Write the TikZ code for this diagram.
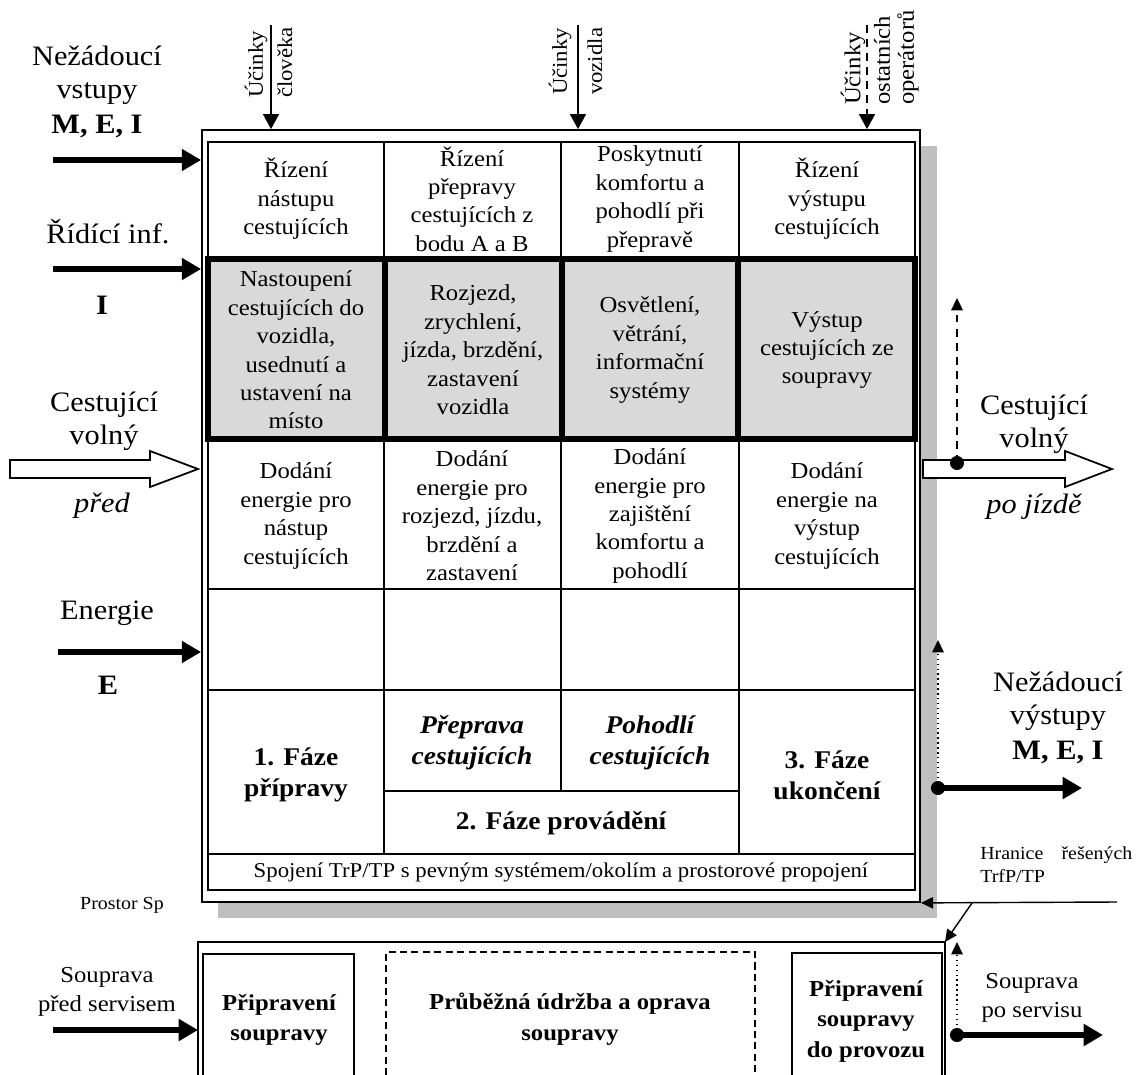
\documentclass[tikz,border=0pt]{standalone}
\usepackage{fontspec}
\setmainfont[FakeStretch=1.08]{Liberation Serif}
\usetikzlibrary{arrows.meta}

\begin{document}
\begin{tikzpicture}[x=0.02cm, y=-0.02cm,
    cell/.style={font=\fontsize{13}{16.2}\selectfont, align=center},
    phase/.style={font=\fontsize{14.5}{17.6}\selectfont\bfseries, align=center},
    side/.style={font=\fontsize{16}{19}\selectfont, align=center},
    service/.style={font=\fontsize{13}{17.4}\selectfont\bfseries, align=center},
    effectlab/.style={font=\fontsize{12}{14}\selectfont, rotate=90, anchor=west, inner sep=1pt},
    grid/.style={line width=0.8pt},
    fatarrow/.style={line width=3.4pt, -{Triangle[length=11pt,width=12pt]}},
    effarrow/.style={line width=1.1pt, -{Triangle[length=8.5pt,width=9pt]}},
    thinarrow/.style={line width=0.8pt, -{Triangle[length=7pt,width=6.5pt]}},
    hollow/.style={draw, fill=white, line width=1pt},
    blob/.style={circle, fill, inner sep=0pt, minimum size=8pt}]
\useasboundingbox (0,0) rectangle (1136,1075);

% Shadow and main frame
\fill[black!25] (218,146) rectangle (937,918);
\node[draw, fill=white, line width=1.1pt, minimum width=14.36cm, minimum height=15.44cm, inner sep=0pt] (frame) at (561,516) {};
\draw[grid] (208,142) rectangle (915,890);

% Rows and columns of the table
\foreach \ry in {589,690,854} \draw[grid] (208,\ry) -- (915,\ry);
\draw[grid] (384,791) -- (739,791);
\foreach \cx in {384,739} \draw[grid] (\cx,142) -- (\cx,854);
\draw[grid] (561,142) -- (561,791);

% Grey row with heavy borders
\filldraw[fill=black!15, line width=3.4pt] (208,259) rectangle (915,439);
\foreach \cx in {385,562,738} \draw[line width=3.4pt] (\cx,259) -- (\cx,439);

% Row 1
\node[cell] (ctlA) at (296,199) {Řízení\\nástupu\\cestujících};
\node[cell] (ctlB) at (472,199) {Řízení\\přepravy\\cestujících z\\bodu A a B};
\node[cell] (ctlC) at (650,199) {Poskytnutí\\komfortu a\\pohodlí při\\přepravě};
\node[cell] (ctlD) at (827,199) {Řízení\\výstupu\\cestujících};
% Row 2
\node[cell] (actA) at (296,350) {Nastoupení\\cestujících do\\vozidla,\\usednutí a\\ustavení na\\místo};
\node[cell] (actB) at (473,350) {Rozjezd,\\zrychlení,\\jízda, brzdění,\\zastavení\\vozidla};
\node[cell] (actC) at (650,350) {Osvětlení,\\větrání,\\informační\\systémy};
\node[cell] (actD) at (827,350) {Výstup\\cestujících ze\\soupravy};
% Row 3
\node[cell] (engA) at (296,516) {Dodání\\energie pro\\nástup\\cestujících};
\node[cell] (engB) at (472,516) {Dodání\\energie pro\\rozjezd, jízdu,\\brzdění a\\zastavení};
\node[cell] (engC) at (650,516) {Dodání\\energie pro\\zajištění\\komfortu a\\pohodlí};
\node[cell] (engD) at (827,516) {Dodání\\energie na\\výstup\\cestujících};
% Phases
\node[phase] (phA) at (296,775) {1. Fáze\\přípravy};
\node[phase] (trans) at (472,743) {\itshape Přeprava\\\itshape cestujících};
\node[phase] (comf) at (650,743) {\itshape Pohodlí\\\itshape cestujících};
\node[phase] (phB) at (561,823) {2. Fáze provádění};
\node[phase] (phC) at (827,775) {3. Fáze\\ukončení};
\node[font=\fontsize{12}{14}\selectfont] (link) at (561,872) {Spojení TrP/TP s pevným systémem/okolím a prostorové propojení};

% Effects from above
\coordinate (humTop) at (271,25);
\coordinate (vehTop) at (578,25);
\coordinate (othTop) at (867,25);
\draw[effarrow] (humTop) -- (frame.north -| humTop);
\draw[effarrow] (vehTop) -- (frame.north -| vehTop);
\draw[effarrow, dash pattern=on 4.5pt off 3.5pt] (othTop) -- (frame.north -| othTop);
\node[effectlab] (humA) at (256,100) {Účinky};
\node[effectlab] (humB) at (285,100) {člověka};
\node[effectlab] (vehA) at (560,97) {Účinky};
\node[effectlab] (vehB) at (595,97) {vozidla};
\node[effectlab, font=\fontsize{13}{15}\selectfont] (othA) at (853,107) {Účinky};
\node[effectlab, font=\fontsize{13}{15}\selectfont] (othB) at (882,107) {ostatních};
\node[effectlab, font=\fontsize{13}{15}\selectfont] (othC) at (908,107) {operátorů};

% Inputs on the left
\node[side] (badIn) at (97,92) {Nežádoucí\\vstupy\\[1pt]\textbf{M, E, I}};
\node[side] (ctlIn) at (108,232) {Řídící inf.};
\node[side, font=\fontsize{16}{19}\selectfont\bfseries] (ctlI) at (102,305) {I};
\node[side] (paxIn) at (104,421) {Cestující\\volný};
\node[side, font=\fontsize{16}{19}\selectfont\itshape] (paxPre) at (102,506) {před};
\node[side] (enIn) at (107,613) {Energie};
\node[side, font=\fontsize{16}{19}\selectfont\bfseries] (enE) at (108,685) {E};
\coordinate (badSrc) at (53,160);
\coordinate (ctlSrc) at (53,269);
\coordinate (enSrc) at (58,652);
\draw[fatarrow] (badSrc) -- (frame.west |- badSrc);
\draw[fatarrow] (ctlSrc) -- (frame.west |- ctlSrc);
\draw[fatarrow] (enSrc) -- (frame.west |- enSrc);
\draw[hollow] (10,460) -- (150,460) -- (150,451) -- (198,469) -- (150,487) -- (150,478) -- (10,478) -- cycle;

% Outputs on the right
\draw[hollow] (923,460) -- (1065,460) -- (1065,451) -- (1112,469) -- (1065,487) -- (1065,478) -- (923,478) -- cycle;
\node[blob] (dotA) at (957,463) {};
\coordinate (dotATip) at (957,298);
\draw[line width=1.1pt, dash pattern=on 4.5pt off 3.5pt, -{Triangle[length=7pt,width=6.5pt]}] (dotA.center) -- (dotATip);
\node[side] (paxOut) at (1034,424) {Cestující\\volný};
\node[side, font=\fontsize{16}{19}\selectfont\itshape] (paxPost) at (1034,507) {po jízdě};

\node[blob] (dotB) at (938,788) {};
\coordinate (dotBTip) at (938,640);
\coordinate (badOut) at (1082,788);
\draw[thinarrow, dotted] (dotB.center) -- (dotBTip);
\draw[fatarrow] (dotB.center) -- (badOut);
\node[side] (badOutLab) at (1058,718) {Nežádoucí\\výstupy\\[1pt]\textbf{M, E, I}};

% Boundary of the solved system
\node[font=\fontsize{10.5}{13.5}\selectfont, anchor=north west, inner sep=0pt] (bound) at (980,846) {\parbox{3.04cm}{Hranice\hfill řešených\\TrfP/TP}};
\coordinate (boundR) at (1117,902);
\coordinate (boundS) at (972,903);
\coordinate (lowNW) at (198,942);
\coordinate (lowNE) at (945,942);
\draw[thinarrow] (boundR) -- (frame.south east);
\draw[thinarrow] (boundS) -- (lowNE);
\node[font=\fontsize{10.5}{13}\selectfont] (space) at (122,905) {Prostor Sp};

% Service part
\draw[line width=1pt] (198,1075) -- (lowNW) -- (lowNE) -- (945,1075);
\draw[grid] (203,1075) -- (203,954) -- (354,954) -- (354,1075);
\draw[line width=1.2pt, dash pattern=on 4pt off 2.5pt] (386,1075) -- (386,952) -- (755,952) -- (755,1075);
\draw[grid] (792,1075) -- (792,953) -- (942,953) -- (942,1075);
\node[service] (prepA) at (279,1020) {Připravení\\soupravy};
\node[service] (maint) at (570,1019) {Průběžná údržba a oprava\\soupravy};
\node[service] (prepB) at (866,1021) {Připravení\\soupravy\\do provozu};

\node[side, font=\fontsize{13}{16.4}\selectfont] (svcIn) at (107,992) {Souprava\\před servisem};
\coordinate (svcSrc) at (53,1030);
\draw[fatarrow] (svcSrc) -- (svcSrc -| lowNW);
\node[blob] (dotC) at (957,1035) {};
\coordinate (svcOut) at (1103,1035);
\draw[thinarrow, dotted] (dotC.center) -- (dotC |- lowNE);
\draw[fatarrow] (dotC.center) -- (svcOut);
\node[side, font=\fontsize{13}{16.4}\selectfont] (svcOutLab) at (1032,998) {Souprava\\po servisu};
\end{tikzpicture}
\end{document}
